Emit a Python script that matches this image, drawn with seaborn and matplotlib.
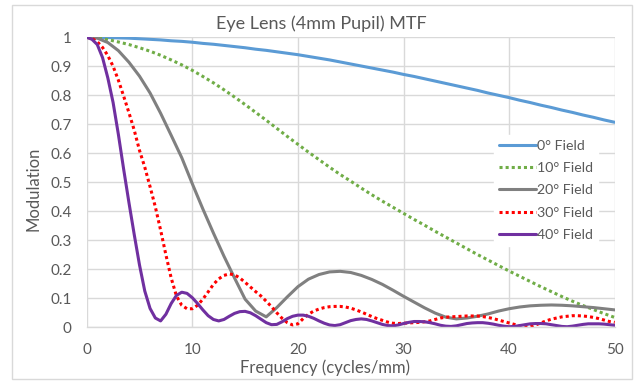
import numpy as np
import pandas as pd
import seaborn as sns
import matplotlib
matplotlib.use("Agg")
import matplotlib.pyplot as plt
from matplotlib.patches import Rectangle

# ---------------- data ----------------
freq = np.arange(0, 51, 1)          # cycles/mm, step 1
freq_fine = np.arange(0, 50.5, 0.5)  # cycles/mm, step 0.5

field_0 = [1.000, 1.000, 0.999, 0.998, 0.997, 0.995, 0.993, 0.991, 0.988, 0.986,
           0.983, 0.979, 0.976, 0.972, 0.968, 0.964, 0.959, 0.955, 0.950, 0.945,
           0.940, 0.934, 0.928, 0.922, 0.915, 0.908, 0.901, 0.894, 0.887, 0.880,
           0.872, 0.865, 0.857, 0.849, 0.841, 0.833, 0.825, 0.817, 0.808, 0.800,
           0.792, 0.783, 0.775, 0.766, 0.758, 0.749, 0.741, 0.732, 0.724, 0.715,
           0.707]

field_10 = [1.000, 0.998, 0.992, 0.984, 0.975, 0.964, 0.952, 0.938, 0.922, 0.905,
            0.886, 0.865, 0.843, 0.819, 0.794, 0.768, 0.741, 0.714, 0.686, 0.658,
            0.631, 0.604, 0.578, 0.552, 0.527, 0.504, 0.480, 0.457, 0.435, 0.414,
            0.393, 0.372, 0.352, 0.331, 0.311, 0.291, 0.271, 0.251, 0.232, 0.213,
            0.194, 0.176, 0.158, 0.140, 0.123, 0.106, 0.090, 0.075, 0.061, 0.047,
            0.034]

field_20 = [1.000, 0.997, 0.982, 0.954, 0.914, 0.866, 0.808, 0.738, 0.662, 0.585,
            0.495, 0.408, 0.325, 0.245, 0.170, 0.097, 0.056, 0.036, 0.068, 0.105,
            0.140, 0.166, 0.182, 0.191, 0.193, 0.189, 0.179, 0.165, 0.148, 0.128,
            0.107, 0.087, 0.067, 0.049, 0.035, 0.029, 0.032, 0.038, 0.046, 0.056,
            0.064, 0.070, 0.074, 0.076, 0.077, 0.076, 0.074, 0.071, 0.068, 0.064,
            0.060]

field_30 = [1.000, 0.996, 0.985, 0.965, 0.937, 0.900, 0.852, 0.797, 0.740, 0.680,
            0.610, 0.552, 0.485, 0.415, 0.335, 0.250, 0.170, 0.108, 0.076, 0.064,
            0.064, 0.076, 0.097, 0.122, 0.148, 0.167, 0.179, 0.184, 0.181, 0.170,
            0.155, 0.139, 0.123, 0.108, 0.090, 0.071, 0.050, 0.031, 0.016, 0.008,
            0.012, 0.030, 0.045, 0.056, 0.063, 0.068, 0.071, 0.072, 0.072, 0.070,
            0.066, 0.060, 0.053, 0.045, 0.037, 0.030, 0.024, 0.018, 0.014, 0.013,
            0.014, 0.015, 0.016, 0.017, 0.019, 0.022, 0.027, 0.032, 0.035, 0.036,
            0.037, 0.038, 0.039, 0.039, 0.039, 0.037, 0.034, 0.030, 0.025, 0.020,
            0.015, 0.010, 0.005, 0.002, 0.003, 0.008, 0.015, 0.022, 0.028, 0.032,
            0.036, 0.038, 0.040, 0.040, 0.039, 0.037, 0.034, 0.030, 0.025, 0.020,
            0.017]

field_40 = [1.000, 0.993, 0.975, 0.930, 0.860, 0.775, 0.665, 0.545, 0.430, 0.320,
            0.215, 0.125, 0.065, 0.032, 0.022, 0.045, 0.082, 0.110, 0.121, 0.117,
            0.102, 0.082, 0.060, 0.040, 0.027, 0.022, 0.027, 0.038, 0.048, 0.054,
            0.055, 0.050, 0.040, 0.028, 0.016, 0.009, 0.010, 0.019, 0.030, 0.038,
            0.042, 0.042, 0.038, 0.031, 0.022, 0.014, 0.008, 0.006, 0.009, 0.016,
            0.023, 0.027, 0.029, 0.027, 0.022, 0.016, 0.010, 0.006, 0.005, 0.008,
            0.013, 0.017, 0.020, 0.020, 0.019, 0.016, 0.012, 0.007, 0.004, 0.003,
            0.005, 0.009, 0.013, 0.015, 0.016, 0.016, 0.014, 0.011, 0.007, 0.004,
            0.002, 0.003, 0.006, 0.009, 0.012, 0.013, 0.013, 0.012, 0.009, 0.006,
            0.003, 0.002, 0.004, 0.007, 0.010, 0.012, 0.012, 0.012, 0.011, 0.009,
            0.007]

labels = ["0° Field", "10° Field", "20° Field", "30° Field", "40° Field"]
x_ticks = [0, 10, 20, 30, 40, 50]
y_ticks = [0, 0.1, 0.2, 0.3, 0.4, 0.5, 0.6, 0.7, 0.8, 0.9, 1]
y_tick_labels = ["0", "0.1", "0.2", "0.3", "0.4", "0.5", "0.6", "0.7", "0.8", "0.9", "1"]

# ---------------- style ----------------
sns.set_theme(style="white")
plt.rcParams["font.family"] = ["Lato", "DejaVu Sans"]
TXT = "#595959"
GRID = "#D9D9D9"

fig = plt.figure(figsize=(6.43, 3.81), dpi=100)
W, H = 643, 381
L, R, T, B = 86.7, 614.7, 37.3, 327.3
ax = fig.add_axes([L / W, 1 - B / H, (R - L) / W, (B - T) / H])

series = [
    (freq, field_0, "#5B9BD5", "-"),
    (freq, field_10, "#70AD47", (0, (1, 1))),
    (freq, field_20, "#808080", "-"),
    (freq_fine, field_30, "#FF0000", (0, (1, 1))),
    (freq_fine, field_40, "#7030A0", "-"),
]
for (xs, ys, col, ls), lab in zip(series, labels):
    df = pd.DataFrame({"Frequency": xs, "Modulation": ys})
    sns.lineplot(data=df, x="Frequency", y="Modulation", ax=ax, color=col,
                 linestyle=ls, linewidth=2.2, label=lab, estimator=None,
                 sort=False, dash_capstyle="butt", solid_capstyle="round",
                 solid_joinstyle="round")

ax.set_xlim(0, 50)
ax.set_ylim(0, 1)
ax.set_xticks(x_ticks)
ax.set_yticks(y_ticks)
ax.set_yticklabels(y_tick_labels)
ax.grid(True, color=GRID, linewidth=1.0)
ax.set_axisbelow(True)
for s in ["left", "right", "top"]:
    ax.spines[s].set_visible(False)
ax.spines["bottom"].set_color(GRID)
ax.spines["bottom"].set_linewidth(1.0)
ax.tick_params(axis="both", length=0, labelsize=11, labelcolor=TXT)
ax.tick_params(axis="y", pad=11)
ax.tick_params(axis="x", pad=11)
ax.set_xlabel("")
ax.set_ylabel("")

leg = ax.legend(loc="upper left",
                bbox_to_anchor=((494 - L) / (R - L), 1 - (135 - T) / (B - T)),
                borderaxespad=0, frameon=True, fancybox=False, fontsize=10.2,
                handlelength=2.6, handletextpad=0.12, labelspacing=0.72,
                borderpad=0.35)
leg.get_frame().set_facecolor("white")
leg.get_frame().set_edgecolor("white")
leg.get_frame().set_alpha(1)
for t in leg.get_texts():
    t.set_color(TXT)

fig.text(0.5, 1 - 24 / H, "Eye Lens (4mm Pupil) MTF", ha="center", va="center",
         fontsize=13, color=TXT)
fig.text(325 / W, 1 - 368 / H, "Frequency (cycles/mm)", ha="center", va="center",
         fontsize=12, color=TXT)
fig.text(34 / W, 1 - 189 / H, "Modulation", ha="center", va="center",
         rotation=90, fontsize=12, color=TXT)

fig.patches.append(Rectangle((12 / W, 1 - 379 / H), 620 / W, 374 / H,
                             transform=fig.transFigure, fill=False,
                             edgecolor=GRID, linewidth=1.0))

fig.savefig("out.png", dpi=100)
